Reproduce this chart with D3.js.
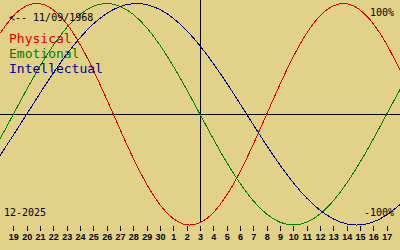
<!doctype html>
<html>
<head>
    <style>
        body { margin: 0; background: #e1d288; }
        svg { display: block; }
        .mono { font-family: "DejaVu Sans Mono", monospace; }
        .axis text { font-family: "Liberation Sans", Arial, sans-serif; font-size: 9px; font-weight: bold; fill: #000; }
        .axis line { stroke: #000; shape-rendering: crispEdges; }
        .axis .domain { display: none; }
    </style>
    <script src="https://d3js.org/d3.v7.min.js"></script>
</head>
<body>
<svg width="400" height="250" id="chart"></svg>
<script>
    // day offsets from today (3 Dec 2025)
    var days = [-15, -14, -13, -12, -11, -10, -9, -8, -7, -6, -5, -4, -3, -2, -1, 0,
                1, 2, 3, 4, 5, 6, 7, 8, 9, 10, 11, 12, 13, 14, 15];
    var dayLabels = ["19", "20", "21", "22", "23", "24", "25", "26", "27", "28", "29", "30",
                     "1", "2", "3", "4", "5", "6", "7", "8", "9", "10", "11", "12", "13", "14", "15", "16", "17"];

    // percent values, one per day
    var physical = [73.1, 88.8, 97.9, 99.8, 94.2, 81.7, 63.1, 39.8, 13.6, -13.6, -39.8, -63.1, -81.7, -94.2, -99.8, -97.9,
                    -88.8, -73.1, -52.0, -27.0, 0, 27.0, 52.0, 73.1, 88.8, 97.9, 99.8, 94.2, 81.7, 63.1, 39.8];
    var emotional = [-22.3, 0, 22.3, 43.4, 62.3, 78.2, 90.1, 97.5, 100, 97.5, 90.1, 78.2, 62.3, 43.4, 22.3, 0,
                     -22.3, -43.4, -62.3, -78.2, -90.1, -97.5, -100, -97.5, -90.1, -78.2, -62.3, -43.4, -22.3, 0, 22.3];
    var intellectual = [-37.2, -18.9, 0, 18.9, 37.2, 54.1, 69.0, 81.5, 91.0, 97.2, 99.9, 99.0, 94.5, 86.6, 75.6, 61.8,
                        45.8, 28.2, 9.5, -9.5, -28.2, -45.8, -61.8, -75.6, -86.6, -94.5, -99.0, -99.9, -97.2, -91.0, -81.5];

    var svg = d3.select("#chart");

    var x = d3.scaleLinear().domain([-15, 15]).range([0, 400]);
    var y = d3.scaleLinear().domain([-100, 100]).range([225, 3.5]);

    // zero line and today line
    var y0 = Math.round(y(0)) + 0.5;
    svg.append("line")
       .attr("x1", 0).attr("x2", 400)
       .attr("y1", y0).attr("y2", y0)
       .attr("stroke", "#000")
       .attr("shape-rendering", "crispEdges");
    svg.append("line")
       .attr("x1", x(0) + 0.5).attr("x2", x(0) + 0.5)
       .attr("y1", 0).attr("y2", 223)
       .attr("stroke", "#000")
       .attr("shape-rendering", "crispEdges");

    // day axis
    svg.append("g")
       .attr("class", "axis")
       .attr("transform", "translate(0,226)")
       .call(d3.axisBottom(x)
           .tickValues(days.slice(1, -1))
           .tickSize(5)
           .tickPadding(3)
           .tickFormat(function(d, i) { return dayLabels[i]; }));

    var line = d3.line()
        .x(function(d, i) { return x(days[i]); })
        .y(function(d) { return y(d); })
        .curve(d3.curveNatural);

    var series = [
        { name: "Physical", values: physical, color: "#dd0000" },
        { name: "Emotional", values: emotional, color: "#008000" },
        { name: "Intellectual", values: intellectual, color: "#000099" }
    ];

    series.forEach(function(s, i) {
        svg.append("path")
           .attr("d", line(s.values))
           .attr("fill", "none")
           .attr("stroke", s.color)
           .attr("stroke-width", 1)
           .attr("shape-rendering", "crispEdges");

        svg.append("text")
           .attr("class", "mono")
           .attr("x", 9)
           .attr("y", 43 + i * 15)
           .attr("font-size", "13px")
           .attr("fill", s.color)
           .text(s.name);
    });

    svg.append("text").attr("class", "mono")
       .attr("x", 9).attr("y", 21).attr("font-size", "10px")
       .text("<-- 11/09/1968");
    svg.append("text").attr("class", "mono")
       .attr("x", 394).attr("y", 16).attr("font-size", "10px")
       .attr("text-anchor", "end")
       .text("100%");
    svg.append("text").attr("class", "mono")
       .attr("x", 394).attr("y", 216).attr("font-size", "10px")
       .attr("text-anchor", "end")
       .text("-100%");
    svg.append("text").attr("class", "mono")
       .attr("x", 4).attr("y", 216).attr("font-size", "10px")
       .text("12-2025");
</script>
</body>
</html>
